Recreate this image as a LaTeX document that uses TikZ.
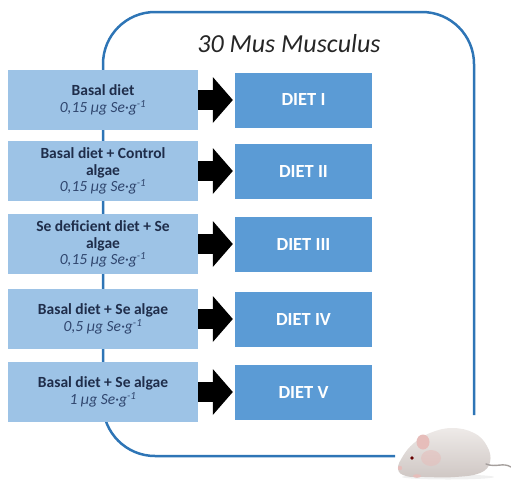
\documentclass[tikz,border=0pt]{standalone}
\usepackage{fontspec}
\setmainfont{Carlito}
\usetikzlibrary{arrows.meta}

\definecolor{framebl}{HTML}{2E75B6}
\definecolor{dietbl}{HTML}{5B9BD5}
\definecolor{basebl}{HTML}{9DC3E6}
\definecolor{navytx}{HTML}{1F2D4A}
\definecolor{dosetx}{HTML}{30466E}
\definecolor{furlight}{HTML}{EEEAE8}
\definecolor{furdark}{HTML}{CFC7C4}
\definecolor{mousepink}{HTML}{E6BDBA}

% dose line under each base diet
\newcommand\dosage[1]{{\mdseries\itshape\color{dosetx}#1 µg Se·g\textsuperscript{-1}}}

\begin{document}
\begin{tikzpicture}[x=1pt, y=-1pt,
    base/.style={fill=basebl, minimum width=190pt, minimum height=60pt, align=center,
        text=navytx, inner sep=2pt, font=\fontsize{15.5}{16.5}\selectfont\bfseries},
    diet/.style={fill=dietbl, minimum width=137pt, minimum height=55pt,
        text=white, font=\fontsize{18.5}{20}\selectfont\bfseries},
    push/.style={line width=20pt, -{Triangle[length=20pt, width=46pt, line width=0pt]}, shorten >=2pt},
]
\useasboundingbox (0,0) rectangle (511,479);

% group frame
\draw[framebl, line width=2.5pt, rounded corners=52pt]
 (395,456) -- (103,456) -- (103,12) -- (474,12) -- (474,415);

\node[font=\fontsize{26}{28}\selectfont\itshape, text=black!85] (ttl) at (289,44) {30 Mus Musculus};

% base diets
\node[base] (b1) at (103,100) {Basal diet\\\dosage{0,15}};
\node[base] (b2) at (103,171) {Basal diet + Control\\algae\\\dosage{0,15}};
\node[base] (b3) at (103,244) {Se deficient diet + Se\\algae\\\dosage{0,15}};
\node[base] (b4) at (103,319) {Basal diet + Se algae\\\dosage{0,5}};
\node[base] (b5) at (103,392) {Basal diet + Se algae\\\dosage{1}};

% diets and arrows
\foreach \i/\r/\y in {1/I/100, 2/II/171, 3/III/244, 4/IV/319, 5/V/392}{
\node[diet] (d\i) at (303.5,\y) {DIET \r};
\draw[push] (b\i.east) -- (d\i.west);
}

% mouse
\fill[black!6] (448,477) ellipse (46pt and 2.5pt);
\shade[top color=furlight, bottom color=furdark]
 plot[smooth cycle, tension=0.7] coordinates {(398,469) (403,456) (414,443) (430,433)
 (452,428) (474,433) (487,446) (490,462) (480,473) (455,477) (425,477) (406,476)};
\draw[furdark!80!black, line width=1.4pt, line cap=round]
 (486,464) .. controls (496,468) and (503,462) .. (511,467);
\fill[mousepink, opacity=0.55] (431,458) ellipse (10pt and 8pt);
\fill[mousepink] (423,442) ellipse (6.5pt and 7.5pt);
\fill[mousepink] (400,468) circle (2.2pt);
\fill[mousepink] (417,476) ellipse (4pt and 1.8pt);
\fill[black!60!red] (412,458) circle (1.8pt);
\end{tikzpicture}
\end{document}
